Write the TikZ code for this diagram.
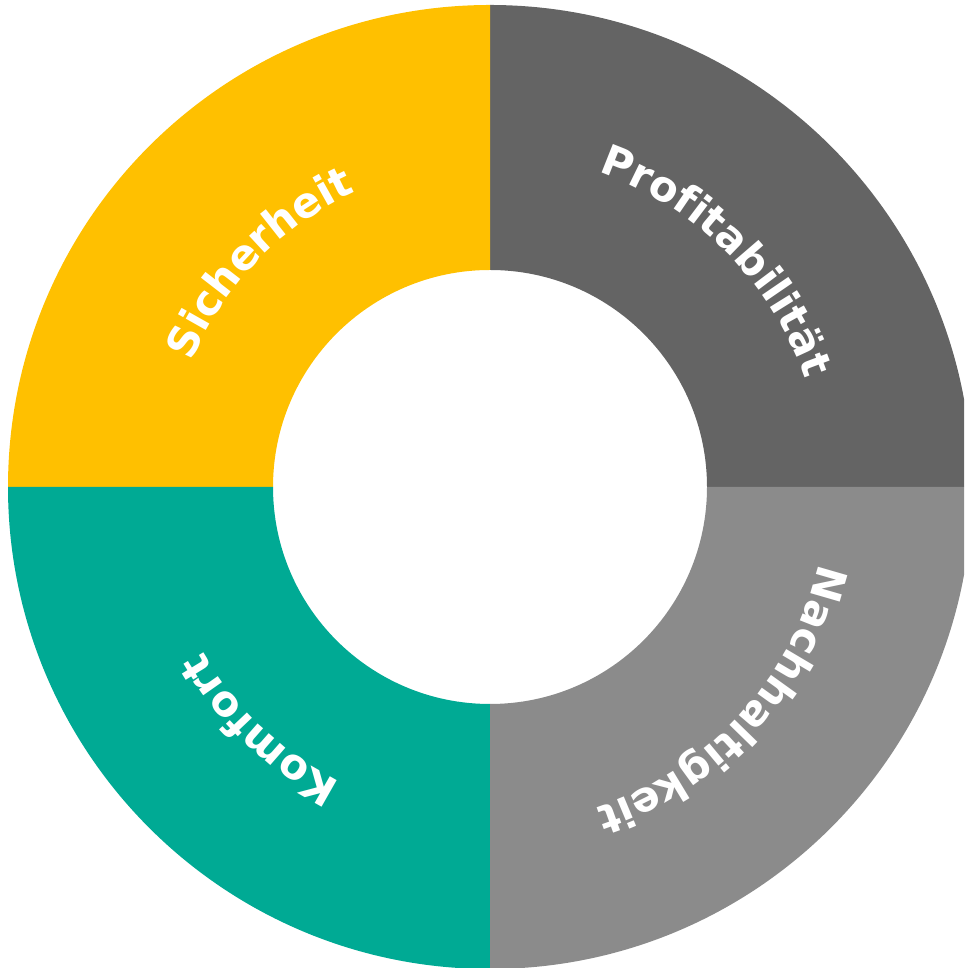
\documentclass[tikz,border=0pt]{standalone}
\usepackage{fontspec}
\newfontfamily\labfont{DejaVu Sans}
\usetikzlibrary{decorations.text}
\definecolor{cyellow}{HTML}{FFC000}
\definecolor{cdark}{HTML}{646464}
\definecolor{clight}{HTML}{8B8B8B}
\definecolor{cteal}{HTML}{00AA94}
\tikzset{
  sector/.style={draw=none},
  arclabel/.style={decorate, decoration={text along path, text align=center,
      text color=white, text={#1}}}
}
\newcommand{\Rout}{482}
\newcommand{\Rin}{217}
\begin{document}
\begin{tikzpicture}[x=1pt,y=1pt]
\useasboundingbox (0,0) rectangle (964,968);
\clip (0,0) rectangle (964,968);
\coordinate (c) at (490,481);
\foreach \a/\col in {0/cdark, 90/cyellow, 180/cteal, 270/clight}{
  \fill[sector, \col] ([shift={(\a:\Rin)}]c) -- ([shift={(\a:\Rout)}]c)
    arc[start angle=\a, end angle=\a+90, radius=\Rout]
    -- ([shift={(\a+90:\Rin)}]c)
    arc[start angle=\a+90, end angle=\a, radius=\Rin] -- cycle;
}
\foreach \m/\r/\t in {45/333/Profitabilität, 135.8/324/Sicherheit, 226.5/331/Komfort, 317.5/338/Nachhaltigkeit}{
  \path[arclabel={|\labfont\bfseries\fontsize{42}{50}\selectfont|\t}]
    ([shift={(\m+60:\r)}]c) arc[start angle=\m+60, end angle=\m-60, radius=\r];
}
\end{tikzpicture}
\end{document}
